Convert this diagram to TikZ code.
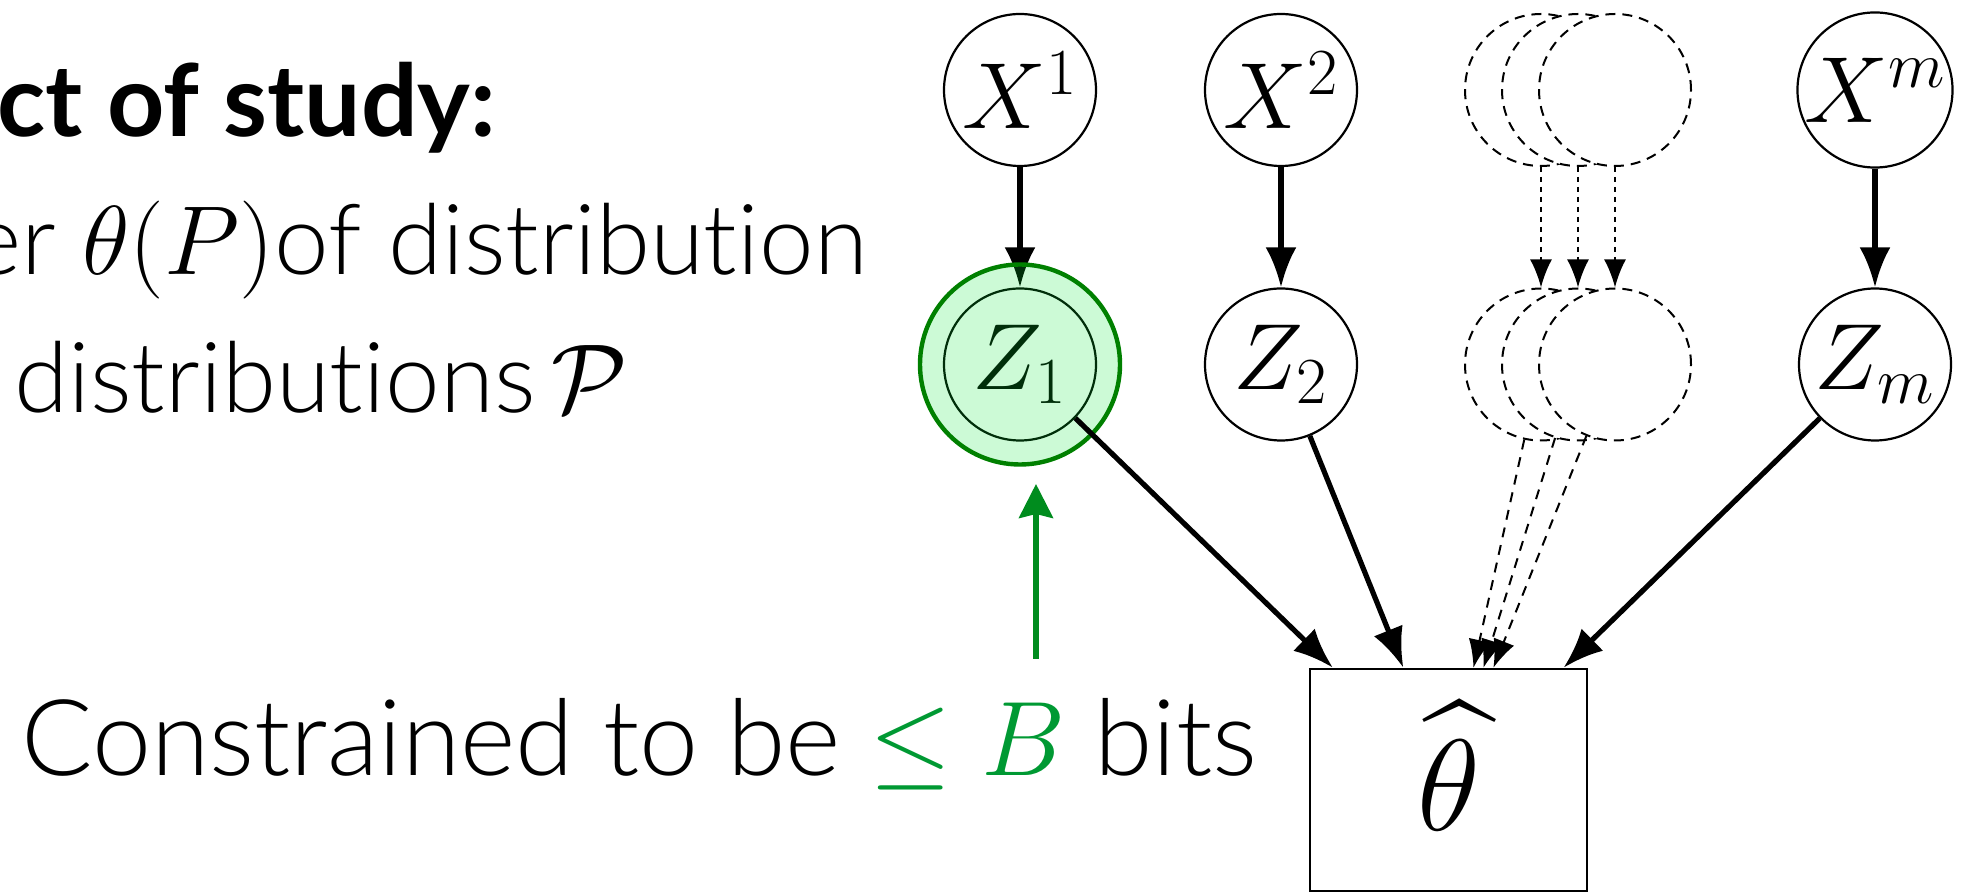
\documentclass[tikz,border=0pt]{standalone}
\usepackage{fix-cm}
\usepackage{exscale}
\DeclareFontShape{OMX}{cmex}{m}{n}{<-> cmex10}{}
\usepackage{fontspec}
\setmainfont{Lato}[UprightFont={* Light}, BoldFont={* Bold}, Ligatures={NoCommon,NoContextual}, RawFeature={-liga;-dlig}]
\usetikzlibrary{arrows.meta}
\definecolor{ringgreen}{RGB}{0,128,0}
\definecolor{fillgreen}{RGB}{0,230,50}
\definecolor{txtgreen}{RGB}{0,153,51}
\definecolor{arrgreen}{RGB}{0,140,30}
\begin{document}
\begin{tikzpicture}[x=0.5pt, y=-0.5pt,
  var/.style={circle, draw, line width=1.1pt, minimum size=76pt, inner sep=0pt, fill=white, font=\fontsize{47}{50}\selectfont},
  ghost/.style={circle, draw, dash pattern=on 5pt off 3.5pt, line width=1pt, minimum size=76pt, inner sep=0pt, fill=white},
  edge/.style={-{Latex[length=20pt,width=15.5pt]}, line width=2.6pt},
  ghostedge/.style={-{Latex[length=14pt,width=11pt]}, line width=1pt, dash pattern=on 5pt off 4pt},
  dotedge/.style={-{Latex[length=14pt,width=11pt]}, line width=1.2pt, dash pattern=on 2.5pt off 2.5pt},
  bullettext/.style={inner sep=0pt, font=\fontsize{49}{52}\selectfont},
  estbox/.style={draw, rectangle, line width=1.3pt, minimum width=138.5pt, minimum height=111pt, inner sep=0pt, font=\fontsize{65}{68}\selectfont},
  ring/.style={circle, draw=ringgreen, line width=2.2pt, fill=fillgreen, fill opacity=0.2, minimum size=100pt, inner sep=0pt},
  greenarrow/.style={-{Stealth[length=17pt,width=17pt,inset=2pt]}, line width=2.6pt, draw=arrgreen, fill=arrgreen}
]
\useasboundingbox (0,0) rectangle (1972,892);
\clip (0,0) rectangle (1972,892);

% left text
\node[bullettext, anchor=base west, font=\fontsize{50}{52}\selectfont\bfseries] (t1) at (-3,137) {ct of study:};
\node[bullettext, anchor=base east] (t2) at (868,275) {er $\theta(P)$of distribution};
\node[bullettext, anchor=base west] (t3) at (14,413) {distributions\,$\mathcal{P}$};
\node[inner sep=0pt, anchor=base west, font=\fontsize{53}{56}\selectfont] (lbl) at (21,776) {Constrained to be {\color{txtgreen}$\leq B$} bits};

% top row
\node[var] (x1) at (1020,90) {$X^1$};
\node[var] (x2) at (1281,90) {$X^2$};
\node[ghost] (d1) at (1541,90) {};
\node[ghost] (d2) at (1578,90) {};
\node[ghost] (d3) at (1615,90) {};
\node[var] (xm) at (1875,90) {$X^m$};

% bottom row
\node[var] (z1) at (1020,364.5) {$Z_1$};
\node[var] (z2) at (1281,364.5) {$Z_2$};
\node[ghost] (e1) at (1541,364.5) {};
\node[ghost] (e2) at (1578,364.5) {};
\node[ghost] (e3) at (1615,364.5) {};
\node[var] (zm) at (1875,364.5) {$Z_m$};

% estimator
\node[estbox] (th) at (1448.5,780) {\raisebox{7pt}[\height][\depth]{$\widehat{\theta}$}};

% edges X -> Z
\draw[edge] (x1) -- (z1);
\draw[edge] (x2) -- (z2);
\draw[edge] (xm) -- (zm);
\draw[dotedge] (d1) -- (e1);
\draw[dotedge] (d2) -- (e2);
\draw[dotedge] (d3) -- (e3);

% green highlight
\node[ring] (hl) at (z1) {};

% edges Z -> estimator
\draw[edge] (z1) -- (th);
\draw[edge] (z2) -- (th);
\draw[edge] (zm) -- (th);
\draw[ghostedge] (e1) -- (th);
\draw[ghostedge] (e2) -- (th);
\draw[ghostedge] (e3) -- (th);

% constraint arrow
\coordinate (ga) at (1036,659);
\coordinate (gb) at (1036,484);
\draw[greenarrow] (ga) -- (gb);
\end{tikzpicture}
\end{document}
